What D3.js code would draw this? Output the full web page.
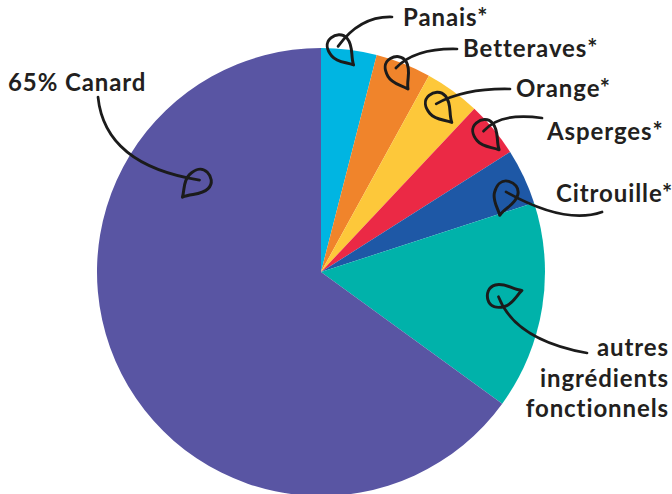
<!DOCTYPE html>
<html>
<head>
    <meta charset="utf-8">
    <style>
        body {
            margin: 0;
            overflow: hidden;
            background: white;
        }
        svg {
            display: block;
        }
        .label {
            font-family: Lato, "Noto Sans", sans-serif;
            font-weight: 700;
            font-size: 24px;
            letter-spacing: 0.9px;
            fill: #231f20;
        }
        .arrow {
            fill: none;
            stroke: #1b1b1b;
            stroke-width: 2.7;
            stroke-linecap: round;
            stroke-linejoin: round;
        }
    </style>
    <script src="https://d3js.org/d3.v7.min.js"></script>
</head>
<body>
<script>
// slices, clockwise from 12 o'clock
const names = ["Panais", "Betteraves", "Orange", "Asperges", "Citrouille", "Autres", "Canard"];
const values = [4, 4, 4, 4, 4, 15, 65];
const colors = ["#00b5e2", "#f0842b", "#fdc83a", "#eb2945", "#1e58a6", "#00b2aa", "#5955a3"];

// label text lines
const labels = [
    ["Panais*"], ["Betteraves*"], ["Orange*"], ["Asperges*"], ["Citrouille*"],
    ["autres", "ingrédients", "fonctionnels"], ["65% Canard"]
];

const width = 672;
const height = 494;
const cx = 321, cy = 272, radius = 224;

// annotation layout: text pos, line start, curve control, arrow end (fraction inside slice, radius factor), head angle
const notes = [
    {tx: 403, ty: 26, anchor: "start", start: [392, 17], ctrl: [360, 16], frac: 0.30, rf: 1.01, head: 50},
    {tx: 463, ty: 57, anchor: "start", start: [457, 49], ctrl: [415, 48], frac: 0.40, rf: 0.97, head: 60},
    {tx: 516, ty: 97, anchor: "start", start: [510, 89], ctrl: [465, 88], frac: 0.39, rf: 0.91, head: 50},
    {tx: 547, ty: 140, anchor: "start", start: [542, 118], ctrl: [500, 112], frac: 0.41, rf: 0.96, head: 50},
    {tx: 556, ty: 202, anchor: "start", start: [602, 212], ctrl: [565, 225], frac: 0.625, rf: 0.90, head: 105},
    {tx: 669, ty: 356, anchor: "end", start: [587, 353], ctrl: [515, 340], frac: 0.48, rf: 0.80, head: -15},
    {tx: 8, ty: 91, anchor: "start", start: [98, 97], ctrl: [105, 165], frac: 0.774, rf: 0.68, head: 135}
];

const svg = d3.select("body").append("svg")
    .attr("width", width)
    .attr("height", height)
    .attr("viewBox", [0, 0, width, height]);

const pie = d3.pie().sort(null).value(d => d);
const arcs = pie(values);
const arc = d3.arc().innerRadius(0).outerRadius(radius);

const g = svg.append("g").attr("transform", `translate(${cx},${cy})`);

g.selectAll("path")
    .data(arcs)
    .join("path")
    .attr("d", arc)
    .attr("fill", (d, i) => colors[i]);

// hand drawn teardrop arrow head, tip on +x
const headPath = "M22,0 C14,-3 9,-11 0,-11 C-7,-11 -10,-5 -10,0 C-10,7 -4,10 3,10 C11,10 15,4 22,0 Z";

const ann = svg.append("g");

arcs.forEach((a, i) => {
    const n = notes[i];
    const ang = a.startAngle + (a.endAngle - a.startAngle) * n.frac;
    const r = radius * n.rf;
    const ex = cx + r * Math.sin(ang);
    const ey = cy - r * Math.cos(ang);

    const p = d3.path();
    p.moveTo(n.start[0], n.start[1]);
    p.quadraticCurveTo(n.ctrl[0], n.ctrl[1], ex, ey);
    ann.append("path").attr("class", "arrow").attr("d", p.toString());

    ann.append("path")
        .attr("class", "arrow")
        .attr("d", headPath)
        .attr("transform", `translate(${ex},${ey}) rotate(${n.head}) scale(1.1)`)
        .attr("stroke-width", 2.7 / 1.1);

    const t = ann.append("text")
        .attr("class", "label")
        .attr("text-anchor", n.anchor)
        .attr("x", n.tx)
        .attr("y", n.ty);
    labels[i].forEach((line, j) => {
        t.append("tspan").attr("x", n.tx).attr("dy", j === 0 ? 0 : 30.5).text(line);
    });
});
</script>
</body>
</html>
